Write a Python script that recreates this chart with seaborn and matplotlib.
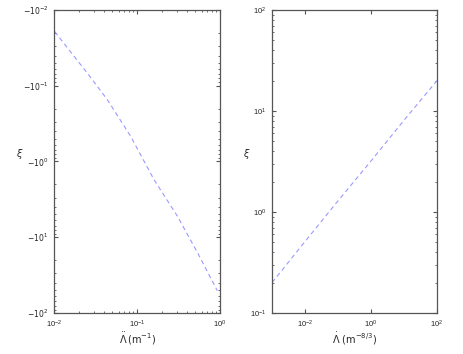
import numpy as np
import pandas as pd
import matplotlib
matplotlib.use("Agg")
import matplotlib.pyplot as plt
import matplotlib.ticker as mticker
import seaborn as sns

sns.set_style("ticks")
plt.rcParams["font.family"] = ["Liberation Sans", "DejaVu Sans"]
plt.rcParams["mathtext.fontset"] = "dejavusans"

# --------------------------------------------------
# Data
# --------------------------------------------------

# left panel: xi (negative) vs Lambda (m^-1)
lam_left = [0.0102, 0.0252, 0.0440, 0.0839, 0.160, 0.306, 0.533, 0.929]
xi_left = [-0.0193, -0.0681, -0.153, -0.465, -1.73, -5.24, -15.8, -50.8]

# right panel: xi vs Lambda (m^-8/3)
lam_right = [0.001, 0.01, 0.1, 1.0, 10.0, 100.0]
xi_right = [0.2, 0.51, 1.29, 3.2, 8.1, 20.0]

line_color = "#9a9aff"
edge_color = "#555555"


def minor_log():
    return mticker.LogLocator(base=10, subs=np.arange(2, 10), numticks=20)


def style_axes(ax):
    for s in ax.spines.values():
        s.set_color(edge_color)
        s.set_linewidth(0.9)
    ax.tick_params(which="both", direction="in", top=True, right=True,
                   colors=edge_color, labelcolor="#222222", labelsize=5.5)
    ax.tick_params(which="major", length=3, pad=4)
    ax.tick_params(which="minor", length=1.5)


fig = plt.figure(figsize=(4.63, 3.54), dpi=100)

# --------------------------------------------------
# Left panel
# --------------------------------------------------

ax1 = fig.add_axes([0.1166, 0.1158, 0.3585, 0.856])

df_left = pd.DataFrame({"lam": lam_left, "mag": [-v for v in xi_left]})

sns.lineplot(data=df_left, x="lam", y="mag", ax=ax1, color=line_color,
             linewidth=0.8, linestyle=(0, (4, 3)))

ax1.set_xscale("log")
ax1.set_yscale("log")
ax1.set_xlim(1e-2, 1e0)
ax1.set_ylim(1e2, 1e-2)
ax1.yaxis.set_major_locator(mticker.LogLocator(base=10, numticks=10))
ax1.yaxis.set_minor_locator(minor_log())
ax1.xaxis.set_minor_locator(minor_log())
ax1.yaxis.set_minor_formatter(mticker.NullFormatter())
ax1.xaxis.set_minor_formatter(mticker.NullFormatter())
ax1.yaxis.set_major_formatter(mticker.FuncFormatter(
    lambda v, p: "$-10^{%d}$" % round(np.log10(v))))
ax1.set_xlabel(r"$\ddot{\Lambda}\,(\mathrm{m}^{-1})$", fontsize=7, labelpad=1)
ax1.set_ylabel(r"$\xi$", fontsize=7, rotation=0, labelpad=2)
style_axes(ax1)

# --------------------------------------------------
# Right panel
# --------------------------------------------------

ax2 = fig.add_axes([0.5875, 0.1158, 0.3564, 0.856])

df_right = pd.DataFrame({"lam": lam_right, "xi": xi_right})

sns.lineplot(data=df_right, x="lam", y="xi", ax=ax2, color=line_color,
             linewidth=0.8, linestyle=(0, (4, 3)))

ax2.set_xscale("log")
ax2.set_yscale("log")
ax2.set_xlim(1e-3, 1e2)
ax2.set_ylim(1e-1, 1e2)
ax2.xaxis.set_major_locator(mticker.FixedLocator([1e-2, 1e0, 1e2]))
ax2.xaxis.set_minor_locator(mticker.NullLocator())
ax2.xaxis.set_major_formatter(mticker.LogFormatterMathtext())
ax2.yaxis.set_minor_locator(minor_log())
ax2.yaxis.set_minor_formatter(mticker.NullFormatter())
ax2.set_xlabel(r"$\dot{\Lambda}\ (\mathrm{m}^{-8/3})$", fontsize=7, labelpad=1)
ax2.set_ylabel(r"$\xi$", fontsize=7, rotation=0, labelpad=2)
style_axes(ax2)

fig.savefig("out.png", dpi=100)
